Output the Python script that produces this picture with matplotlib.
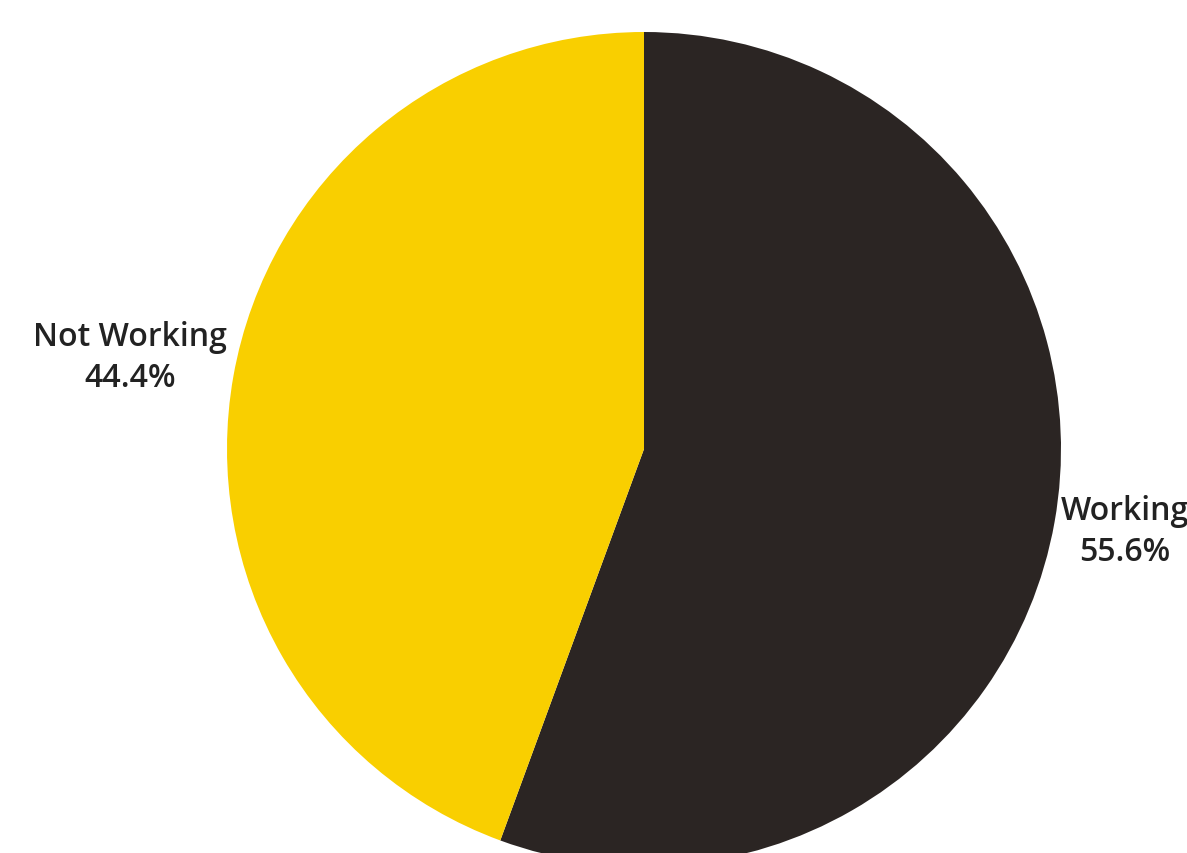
import matplotlib
matplotlib.use("Agg")
import matplotlib.pyplot as plt

categories = ["Working", "Not Working"]
values = [55.6, 44.4]
colors = ["#2B2523", "#F9CF00"]

W, H = 1187, 854
fig = plt.figure(figsize=(W / 100, H / 100), dpi=100)
ax = fig.add_axes([0, 0, 1, 1])

cx, cy, r = 644, H - 450, 417
labels = [f"{c}\n{v}%" for c, v in zip(categories, values)]
wedges, texts = ax.pie(values, colors=colors, startangle=90, counterclock=False,
                       center=(cx, cy), radius=r, labels=labels, labeldistance=1.25,
                       textprops=dict(fontsize=23, family="Open Sans", weight="semibold",
                                      color="#222222", ha="center", va="center",
                                      linespacing=1.35),
                       wedgeprops=dict(linewidth=0), frame=True)
ax.axis("off")
ax.set_xlim(0, W)
ax.set_ylim(0, H)
ax.set_aspect("equal")
# label placement tuned to reference
texts[0].set_position((1125, H - 532))
texts[1].set_position((130, H - 358))

fig.savefig("out.png", dpi=100)
